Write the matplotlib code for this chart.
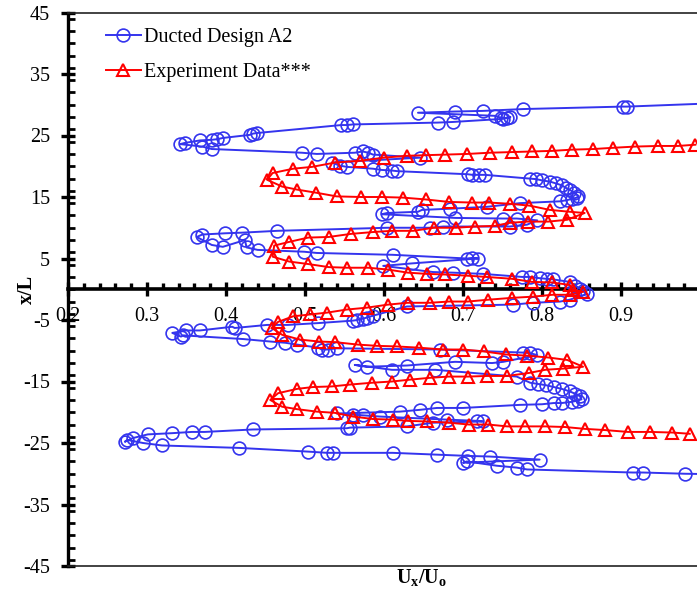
import numpy as np
import matplotlib
matplotlib.use("Agg")
import matplotlib.pyplot as plt
from matplotlib.ticker import MultipleLocator, FixedLocator

plt.rcParams['font.family'] = ['Liberation Serif', 'DejaVu Serif']
plt.rcParams['mathtext.fontset'] = 'custom'
plt.rcParams['mathtext.rm'] = 'Liberation Serif'
plt.rcParams['mathtext.bf'] = 'Liberation Serif:bold'
plt.rcParams['mathtext.it'] = 'Liberation Serif:italic'
plt.rcParams['axes.unicode_minus'] = False

# ---- Ducted Design A2 (simulation), traced from top to bottom ----
ducted_u = [
    1.03, 0.908, 0.902, 0.776, 0.725, 0.690, 0.643,
    0.740, 0.748, 0.756, 0.760, 0.750,
    0.687, 0.668, 0.561, 0.553, 0.546,
    0.439, 0.434, 0.430, 0.396, 0.389, 0.382, 0.367, 0.348, 0.342,
    0.370, 0.382,
    0.496, 0.515, 0.563, 0.573, 0.580, 0.586, 0.646,
    0.534, 0.544, 0.553,
    0.586, 0.597, 0.610, 0.617,
    0.706, 0.712, 0.720, 0.728,
    0.785, 0.793, 0.800, 0.810, 0.818, 0.825, 0.830, 0.836, 0.841, 0.846, 0.844, 0.838, 0.832, 0.823,
    0.772, 0.730, 0.684, 0.648, 0.643, 0.604, 0.597,
    0.690, 0.751, 0.768, 0.794, 0.781, 0.759,
    0.675, 0.658, 0.604,
    0.465, 0.420, 0.399, 0.370, 0.363,
    0.382, 0.396, 0.424, 0.426, 0.440,
    0.499, 0.515, 0.611, 0.705, 0.712, 0.719,
    0.635, 0.599,
    0.662, 0.687, 0.725, 0.775, 0.785, 0.797, 0.806, 0.814, 0.835, 0.842, 0.848, 0.852, 0.857,
    0.835, 0.823, 0.789, 0.763, 0.629, 0.586, 0.578, 0.573, 0.566, 0.561,
    0.517, 0.478, 0.452, 0.411, 0.408, 0.367, 0.350, 0.332, 0.343, 0.346,
    0.422, 0.456, 0.475, 0.490, 0.517, 0.521, 0.529, 0.540,
    0.671, 0.776, 0.785, 0.794,
    0.751, 0.737, 0.690, 0.629, 0.578, 0.563,
    0.610, 0.665, 0.768,
    0.785, 0.795, 0.805, 0.815, 0.825, 0.835, 0.842, 0.848, 0.850, 0.845, 0.838, 0.825, 0.815, 0.800,
    0.772, 0.700, 0.667, 0.646, 0.620, 0.540,
    0.561, 0.573, 0.595, 0.680, 0.718, 0.725,
    0.662, 0.629, 0.557, 0.553,
    0.434, 0.373, 0.357, 0.332, 0.301, 0.282, 0.272, 0.275,
    0.295, 0.319, 0.417, 0.504, 0.528, 0.535, 0.611, 0.667, 0.706, 0.734, 0.797,
    0.700, 0.705, 0.743, 0.768, 0.781,
    0.915, 0.928, 0.981, 1.03,
]
ducted_x = [
    30.3, 29.7, 29.7, 29.3, 29.0, 28.9, 28.7,
    28.2, 27.9, 27.8, 28.0, 27.7,
    27.2, 27.1, 26.8, 26.7, 26.7,
    25.4, 25.3, 25.1, 24.6, 24.4, 24.3, 24.2, 23.8, 23.6,
    23.2, 22.8,
    22.2, 22.0, 22.2, 22.4, 22.2, 21.9, 21.4,
    20.6, 20.1, 19.9,
    19.6, 19.4, 19.3, 19.2,
    18.7, 18.6, 18.6, 18.6,
    18.0, 17.9, 17.7, 17.5, 17.2, 16.9, 16.5, 16.1, 15.7, 15.2, 14.9, 14.7, 14.5, 14.3,
    14.0, 13.4, 13.1, 12.9, 12.6, 12.4, 12.2,
    11.6, 11.5, 11.5, 11.2, 10.5, 10.2,
    10.2, 10.0, 10.0,
    9.5, 9.2, 9.1, 8.9, 8.5,
    7.2, 6.9, 8.0, 6.8, 6.4,
    6.1, 5.9, 5.6, 5.0, 5.1, 5.0,
    4.2, 3.8,
    2.8, 2.7, 2.5, 2.0, 2.0, 1.8, 1.7, 1.6, 1.2, 0.6, 0.1, -0.3, -0.8,
    -1.7, -2.0, -2.2, -2.5, -2.8, -4.3, -4.6, -4.8, -5.0, -5.1,
    -5.5, -5.8, -5.8, -6.3, -6.1, -6.7, -6.7, -7.1, -7.7, -7.5,
    -8.1, -8.5, -8.7, -9.0, -9.5, -9.8, -9.8, -9.6,
    -9.8, -10.3, -10.4, -10.7,
    -11.8, -12.0, -11.8, -12.4, -12.6, -12.3,
    -13.1, -13.1, -14.2,
    -15.2, -15.4, -15.6, -15.9, -16.2, -16.6, -17.0, -17.4, -17.9, -18.1, -18.3, -18.5, -18.5, -18.7,
    -18.8, -19.3, -19.3, -19.6, -19.9, -20.2,
    -20.4, -20.5, -20.7, -21.2, -21.4, -21.5,
    -21.7, -22.3, -22.5, -22.6,
    -22.8, -23.2, -23.2, -23.4, -23.6, -24.2, -24.8, -24.5,
    -25.0, -25.4, -25.8, -26.4, -26.6, -26.6, -26.6, -26.9, -27.1, -27.2, -27.7,
    -28.2, -28.0, -28.7, -29.0, -29.3,
    -29.8, -29.8, -30.0, -30.1,
]

# ---- Experiment Data***, traced from top to bottom ----
exp_u = [
    0.994, 0.972, 0.947, 0.918, 0.890, 0.865, 0.838, 0.813, 0.787, 0.762, 0.734, 0.705,
    0.677, 0.653, 0.629, 0.600, 0.570, 0.538, 0.509, 0.485, 0.459, 0.452,
    0.471, 0.490, 0.514, 0.540, 0.571, 0.597, 0.624, 0.653, 0.682, 0.711, 0.733, 0.759,
    0.784, 0.810, 0.835, 0.854,
    0.832, 0.808, 0.782, 0.759, 0.740, 0.715, 0.691, 0.663, 0.637, 0.610, 0.586, 0.558,
    0.530, 0.504, 0.480, 0.461, 0.459,
    0.480, 0.504, 0.530, 0.553, 0.580, 0.605, 0.630, 0.654, 0.677, 0.706, 0.730, 0.762,
    0.787, 0.813, 0.835, 0.839, 0.852,
    0.835, 0.813, 0.789, 0.762, 0.732, 0.706, 0.682, 0.658, 0.630, 0.605, 0.578, 0.553,
    0.528, 0.506, 0.485, 0.466, 0.458,
    0.471, 0.494, 0.518, 0.538, 0.567, 0.591, 0.616, 0.644, 0.675, 0.700, 0.726, 0.754,
    0.781, 0.808, 0.832, 0.852,
    0.827, 0.804, 0.784, 0.756, 0.730, 0.706, 0.682, 0.658, 0.633, 0.610, 0.585, 0.557,
    0.534, 0.510, 0.490, 0.466, 0.456,
    0.471, 0.490, 0.515, 0.538, 0.561, 0.586, 0.611, 0.630, 0.654, 0.682, 0.708, 0.732,
    0.756, 0.778, 0.804, 0.829, 0.854, 0.880, 0.909, 0.937, 0.965, 0.987,
]
exp_x = [
    23.5, 23.3, 23.3, 23.2, 23.0, 22.8, 22.7, 22.5, 22.4, 22.3, 22.2, 22.0,
    21.9, 21.8, 21.7, 21.4, 20.9, 20.6, 19.9, 19.6, 18.9, 17.8,
    16.7, 16.2, 15.7, 15.1, 15.0, 15.0, 14.9, 14.6, 14.2, 14.1, 14.1, 13.9,
    13.6, 12.9, 12.6, 12.4,
    11.3, 11.0, 11.0, 10.8, 10.3, 10.2, 10.0, 10.0, 9.5, 9.5, 9.3, 9.0,
    8.5, 8.4, 7.7, 7.1, 5.3,
    4.5, 4.1, 3.6, 3.5, 3.5, 3.2, 2.7, 2.5, 2.4, 2.2, 2.0, 1.7,
    1.2, 1.1, 0.7, -0.1, -0.4,
    -0.9, -0.9, -1.2, -1.4, -1.7, -2.0, -2.0, -2.2, -2.2, -2.5, -3.0, -3.3,
    -3.8, -4.1, -4.4, -5.3, -6.3,
    -7.4, -8.2, -8.5, -8.6, -9.0, -9.2, -9.3, -9.5, -9.8, -9.8, -10.1, -10.6,
    -10.8, -11.1, -11.5, -12.6,
    -12.9, -13.1, -13.6, -14.1, -14.1, -14.2, -14.2, -14.4, -14.7, -15.0, -15.2, -15.5,
    -15.8, -15.9, -16.2, -16.9, -18.0,
    -19.1, -19.5, -19.9, -20.1, -20.7, -21.1, -21.2, -21.4, -21.5, -21.7, -22.0, -22.0,
    -22.3, -22.3, -22.3, -22.4, -22.7, -22.9, -23.2, -23.2, -23.3, -23.5,
]

x_ticks = [0.2, 0.3, 0.4, 0.5, 0.6, 0.7, 0.8, 0.9]
x_tick_labels = ['0.2', '0.3', '0.4', '0.5', '0.6', '0.7', '0.8', '0.9']
y_ticks = [45, 35, 25, 15, 5, -5, -15, -25, -35, -45]

BLUE = '#3434EE'
RED = '#FF0000'
FS = 14.5

fig = plt.figure(figsize=(6.97, 5.89), dpi=100)
ax = fig.add_axes([68 / 697, 23 / 589, 629 / 697, 553.5 / 589])
ax.set_xlim(0.2, 0.2 + 629 / 790)
ax.set_ylim(-45, 45)

ax.plot(ducted_u, ducted_x, color=BLUE, lw=1.4, marker='o', ms=9.2,
        mfc='none', mec=BLUE, mew=1.2, label='Ducted Design A2', zorder=3)
ax.plot(exp_u, exp_x, color=RED, lw=1.4, marker='^', ms=8.8,
        mfc='none', mec=RED, mew=1.5, label='Experiment Data***', zorder=4)

# frame: heavy left axis, heavy horizontal axis through zero, thin outer border
ax.spines['left'].set_linewidth(2.4)
ax.spines['left'].set_color('black')
ax.spines['bottom'].set_position(('data', 0))
ax.spines['bottom'].set_linewidth(2.6)
ax.spines['bottom'].set_color('black')
ax.spines['top'].set_linewidth(1.2)
ax.spines['top'].set_color('#222222')
ax.spines['right'].set_visible(False)
ax.plot([0, 1], [0, 0], transform=ax.transAxes, color='#222222', lw=1.2,
        clip_on=False, zorder=5)

ax.xaxis.set_major_locator(FixedLocator(x_ticks))
ax.set_xticklabels(x_tick_labels)
ax.xaxis.set_minor_locator(MultipleLocator(0.02))
ax.yaxis.set_major_locator(FixedLocator(y_ticks))
ax.yaxis.set_minor_locator(MultipleLocator(2))

ax.tick_params(axis='x', which='major', direction='inout', length=10, width=2.4,
               labelsize=FS, pad=8)
ax.tick_params(axis='x', which='minor', direction='in', length=4, width=2.4)
ax.tick_params(axis='y', which='major', direction='inout', length=10, width=2.4,
               labelsize=FS, pad=8)
ax.tick_params(axis='y', which='minor', direction='in', length=5, width=2.0)

ax.set_ylabel('x/L', fontsize=FS, fontweight='bold')
ax.yaxis.set_label_coords(-0.049, 0.5)
fig.text(422 / 697, 1 - 578 / 589, r'$\mathbf{U_x/U_o}$', fontsize=FS,
         ha='center', va='center')

ax.legend(loc='upper left', bbox_to_anchor=(0.060, 0.972), frameon=False,
          fontsize=FS, borderaxespad=0, borderpad=0, handlelength=1.75,
          handletextpad=0.15, labelspacing=0.8)

fig.savefig('out.png', dpi=100)
